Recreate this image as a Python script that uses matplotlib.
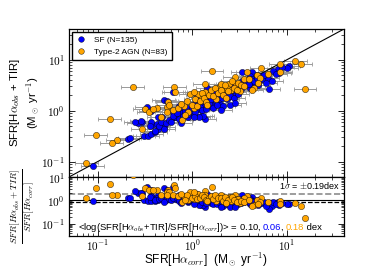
import numpy as np
import matplotlib
matplotlib.use('Agg')
import matplotlib.pyplot as plt
from matplotlib.ticker import FuncFormatter, LogLocator, NullFormatter
from matplotlib.offsetbox import TextArea, HPacker, AnchoredOffsetbox

plt.rcParams['font.family'] = ['Liberation Sans', 'DejaVu Sans']
plt.rcParams['mathtext.fontset'] = 'cm'
plt.rcParams['xtick.direction'] = 'in'
plt.rcParams['ytick.direction'] = 'in'
plt.rcParams['xtick.top'] = True
plt.rcParams['ytick.right'] = True

# log10 SFR values
# SF galaxies: x = SFR[Ha_corr], y = SFR[Ha_obs + TIR]
sf_lx = [-1.05, -0.68, -0.66, -0.48, -0.53, -0.57, -0.51, -0.47, -0.43, -0.39,
         -0.42, -0.20, -0.60, -0.54, 0.53, 0.63, 0.68, 1.02, 1.00, 0.91,
         0.92, 0.80, 0.84, 0.81, 0.71, 0.61, 0.53, 0.61, 0.72, 0.60,
         0.61, 0.66, 0.43, 0.36, 0.25, 0.30, 0.18, 0.14, 0.11, 0.14,
         0.09, 0.09, 0.13, 0.21, -0.30, -0.27, -0.44, 0.05, 0.11, 0.16,
         0.34, 0.39, 0.29, 0.25, 0.20, 0.45, -0.14, -0.11, 0.07, 0.02,
         0.11, 0.16, 0.07, -0.04, -0.11, -0.18, -0.20, -0.32, -0.36, -0.43,
         -0.37, -0.45, -0.36, -0.39, -0.30, -0.12, 0.11, 0.07, -0.04, 0.02,
         -0.35, -0.33, -0.28, -0.25, -0.22, -0.20, -0.16, -0.14, -0.10, -0.08,
         -0.06, -0.02, 0.00, 0.03, 0.05, 0.08, 0.10, 0.12, 0.15, 0.18,
         0.20, 0.22, 0.24, 0.26, 0.28, 0.31, 0.33, 0.35, 0.37, 0.40,
         0.42, 0.44, 0.46, 0.48, 0.50, 0.52, 0.55, 0.57, 0.60, 0.63,
         0.65, 0.68, 0.70, 0.74, 0.76, 0.78, 0.85, 0.88, 0.95, 0.40,
         0.45, 0.30, -0.30, -0.12, 0.02]
sf_ly = [-1.08, -0.56, -0.54, 0.08, -0.23, -0.25, -0.49, -0.49, -0.45, -0.42,
         -0.29, 0.36, -0.22, -0.21, 0.75, 0.76, 0.71, 0.87, 0.84, 0.82,
         0.74, 0.65, 0.58, 0.43, 0.58, 0.49, 0.58, 0.68, 0.69, 0.62,
         0.44, 0.54, 0.49, 0.36, 0.36, 0.32, 0.29, 0.23, 0.16, 0.10,
         0.06, -0.10, -0.17, 0.13, 0.21, 0.19, 0.00, 0.31, 0.26, 0.44,
         0.42, 0.36, 0.13, 0.19, 0.10, 0.36, 0.10, 0.03, 0.23, 0.13,
         0.10, 0.14, 0.03, -0.12, -0.04, -0.13, -0.03, -0.12, -0.13, -0.23,
         -0.26, -0.30, -0.36, -0.39, -0.32, -0.19, -0.10, -0.13, -0.06, -0.06,
         -0.30, -0.22, -0.25, -0.18, -0.22, -0.10, -0.05, -0.16, -0.10, 0.00,
         0.06, 0.00, 0.05, -0.02, 0.12, 0.08, 0.02, 0.20, 0.04, 0.15,
         0.22, 0.05, 0.28, 0.12, 0.22, 0.24, 0.10, 0.30, 0.22, 0.28,
         0.40, 0.25, 0.45, 0.33, 0.52, 0.42, 0.50, 0.55, 0.52, 0.62,
         0.58, 0.65, 0.50, 0.62, 0.70, 0.55, 0.78, 0.72, 0.85, 0.12,
         0.15, 0.02, -0.35, -0.25, -0.12]

# Type-2 AGN
agn_lx = [-0.63, -0.87, -1.02, -0.79, -0.85, -1.12, -0.19, -0.18, -0.50, -0.46,
          -0.26, -0.27, -0.37, -0.53, -0.33, 0.21, 0.58, 0.73, 0.93, 1.09,
          1.15, 0.65, 1.19, 0.50, 0.45, 0.46, 0.93, 0.55, 0.63, 0.34,
          0.39, 0.29, 0.13, 0.14, 0.09, 0.25, -0.25, -0.41, -0.02, 0.06,
          0.30, 0.37, 0.48, 0.41, -0.09, 0.02, -0.04, -0.27, -0.11, -0.20,
          -0.15, -0.12, -0.05, 0.00, 0.03, 0.05, 0.08, 0.10, 0.12, 0.15,
          0.18, 0.20, 0.22, 0.24, 0.27, 0.30, 0.32, 0.35, 0.38, 0.42,
          0.44, 0.47, 0.52, 0.55, 0.60, 0.68, 0.72, 0.80, 0.36, -0.08,
          0.16, 0.02, 0.70]
agn_ly = [0.47, -0.16, -0.47, -0.57, -0.63, -1.03, 0.47, 0.37, 0.03, -0.02,
          0.18, 0.08, 0.06, -0.36, -0.12, 0.78, 0.76, 0.83, 0.92, 0.98,
          0.92, 0.44, 0.42, 0.39, 0.66, 0.53, 0.76, 0.63, 0.40, 0.42,
          0.52, 0.49, 0.52, 0.36, 0.29, 0.23, 0.12, 0.03, 0.32, 0.33,
          0.53, 0.45, 0.55, 0.40, 0.10, 0.06, -0.03, -0.03, -0.19, 0.02,
          0.05, 0.14, 0.20, 0.12, 0.22, 0.10, 0.20, 0.35, 0.25, 0.18,
          0.30, 0.40, 0.28, 0.45, 0.35, 0.40, 0.30, 0.50, 0.38, 0.58,
          0.45, 0.40, 0.50, 0.48, 0.62, 0.70, 0.64, 0.72, 0.24, -0.08,
          0.12, 0.36, 0.55]

err_dex = 0.12          # typical x error (dex)
mean_all, mean_sf, mean_agn = 0.10, 0.06, 0.18
sigma = 0.19

sf_x, sf_y = 10**np.array(sf_lx), 10**np.array(sf_ly)
agn_x, agn_y = 10**np.array(agn_lx), 10**np.array(agn_ly)

blue = '#0000ff'
orange = '#ffa500'

fig = plt.figure(figsize=(3.73, 2.69), dpi=100)
ax = fig.add_axes([0.185, 0.342, 0.737, 0.550])
axr = fig.add_axes([0.185, 0.123, 0.737, 0.219], sharex=ax)

lims = (0.05, 40)


def xerr(x):
    return [x - x / 10**err_dex, x * 10**err_dex - x]


for x, y in [(sf_x, sf_y), (agn_x, agn_y)]:
    ax.errorbar(x, y, xerr=xerr(x), fmt='none', ecolor='0.6', elinewidth=0.7,
                capsize=1.5, capthick=0.6, zorder=1)
ax.plot(lims, lims, color='k', lw=0.8, zorder=2)
ax.plot(sf_x, sf_y, 'o', color=blue, mec='k', mew=0.3, ms=4.5, zorder=3,
        label='SF (N=135)')
ax.plot(agn_x, agn_y, 'o', color=orange, mec='k', mew=0.3, ms=4.5, zorder=4,
        label='Type-2 AGN (N=83)')

ax.legend(loc='upper left', fontsize=6, numpoints=1, fancybox=False,
          edgecolor='k', framealpha=1, borderaxespad=0.3, handlelength=1.2,
          handletextpad=0.9, borderpad=0.55, labelspacing=0.45, markerscale=0.9)

# residual panel
axr.plot(sf_x, sf_y / sf_x, 'o', color=blue, mec='k', mew=0.3, ms=4.5, zorder=3)
axr.plot(agn_x, agn_y / agn_x, 'o', color=orange, mec='k', mew=0.3, ms=4.5, zorder=4)
axr.axhline(1.0, color='k', lw=0.8, zorder=1)
axr.axhline(10**(mean_all + sigma), color='0.55', lw=1.2, ls='--', zorder=1)
axr.axhline(10**(mean_all - sigma), color='k', lw=0.9, ls='--', zorder=1)

axr.text(0.988, 0.86, r'1$\sigma$ = $\pm$0.19dex', transform=axr.transAxes,
         ha='right', va='center', fontsize=6.5)

parts = [(r'<log(SFR[H$\alpha_{obs}$+TIR]/SFR[H$\alpha_{corr}$])> = %.2f, ' % mean_all, 'k'),
         ('%.2f' % mean_sf, blue), (', ', 'k'), ('%.2f' % mean_agn, orange), (' dex', 'k')]
box = HPacker(children=[TextArea(s, textprops=dict(color=c, fontsize=6.8)) for s, c in parts],
              pad=0, sep=0, align='baseline')
axr.add_artist(AnchoredOffsetbox(loc='center left', child=box, frameon=False, pad=0,
                                 borderpad=0, bbox_to_anchor=(0.033, 0.14),
                                 bbox_transform=axr.transAxes))

fmt = FuncFormatter(lambda v, pos: r'$10^{%d}$' % int(round(np.log10(v))))
for a in (ax, axr):
    a.set_xscale('log')
    a.set_yscale('log')
    a.xaxis.set_major_locator(LogLocator(base=10))
    a.xaxis.set_minor_locator(LogLocator(base=10, subs=np.arange(2, 10)))
    a.yaxis.set_major_locator(LogLocator(base=10))
    a.yaxis.set_minor_locator(LogLocator(base=10, subs=np.arange(2, 10)))
    a.xaxis.set_major_formatter(fmt)
    a.yaxis.set_major_formatter(fmt)
    a.xaxis.set_minor_formatter(NullFormatter())
    a.yaxis.set_minor_formatter(NullFormatter())
    a.tick_params(which='major', length=4, width=0.6, labelsize=8.2, pad=3)
    a.tick_params(which='minor', length=2, width=0.5)
    for s in a.spines.values():
        s.set_linewidth(0.9)
axr.tick_params(axis='x', which='major', pad=1.5, labelsize=8)

ax.set_xlim(lims)
ax.set_ylim(lims)
axr.set_ylim(0.03, 10)
ax.tick_params(labelbottom=False)

ax.set_ylabel('SFR[H$\\alpha_{obs}$ + TIR]\n(M$_\\odot$ yr$^{-1}$)', fontsize=8.2)
axr.set_ylabel(r'$\frac{SFR[H\alpha_{obs}+TIR]}{SFR[H\alpha_{corr}]}$', fontsize=9.5)
axr.set_xlabel(r'SFR[H$\alpha_{corr}$]  (M$_\odot$ yr$^{-1}$)', fontsize=8.6)
ax.yaxis.set_label_coords(-0.1, 0.5)
axr.yaxis.set_label_coords(-0.115, 0.5)
axr.xaxis.set_label_coords(0.5, -0.265)

fig.savefig('out.png', dpi=100)
